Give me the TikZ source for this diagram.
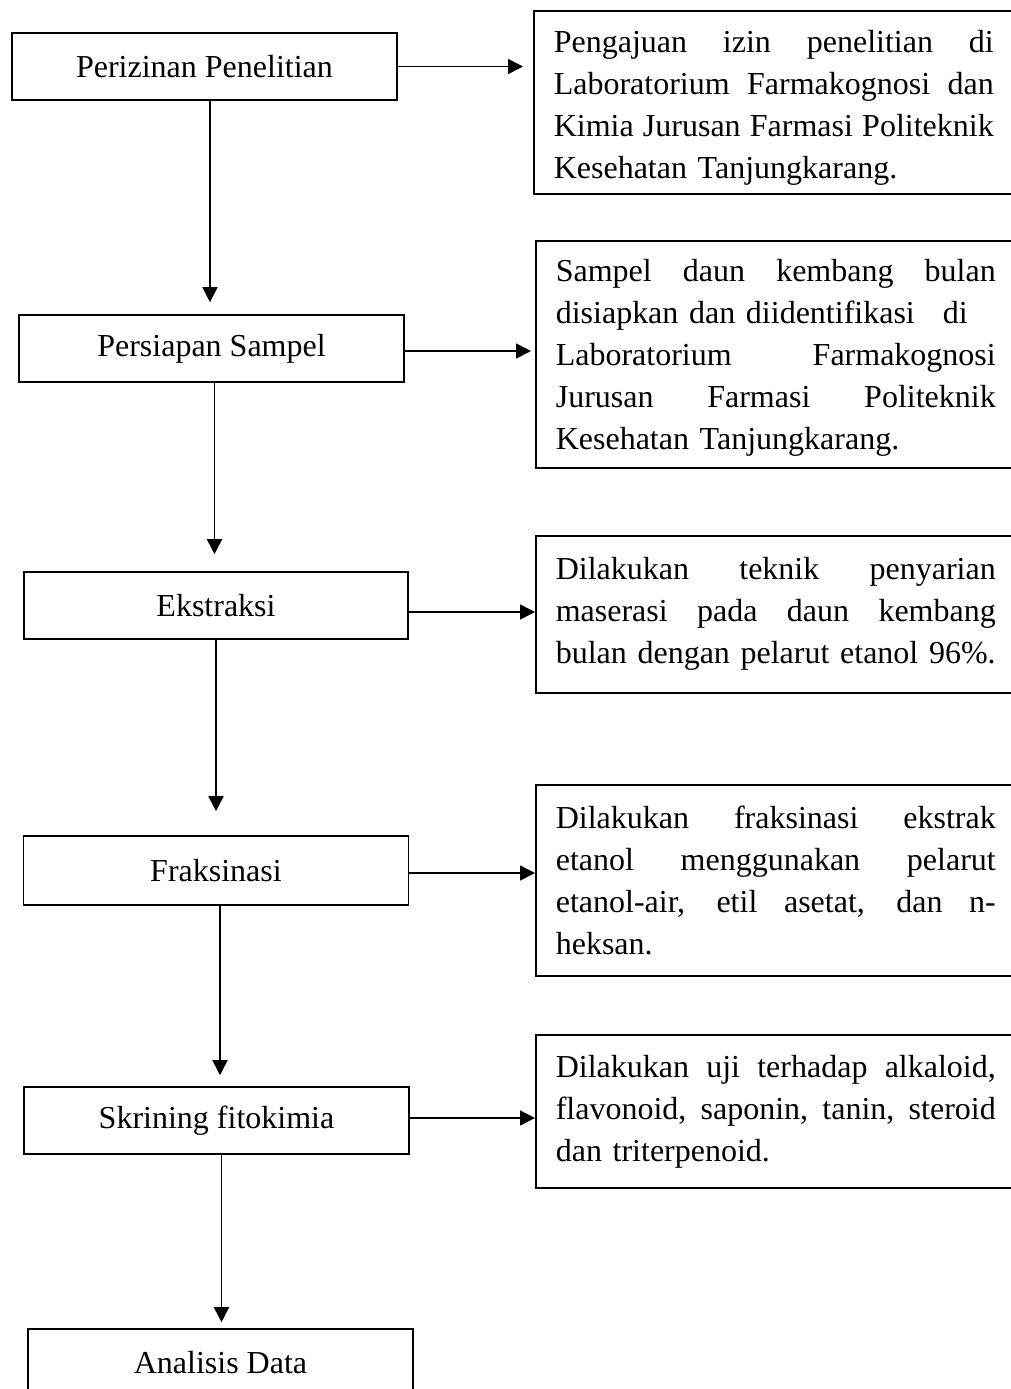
\documentclass[tikz,border=0pt]{standalone}
\usepackage{fontspec}
\setmainfont{Liberation Serif}
\usetikzlibrary{arrows.meta,calc}
\newcommand\jl[1]{\leavevmode\hbox to 220pt{\spaceskip=\fontdimen2\font plus 1fil\relax #1}}
\tikzset{
  stepbox/.style={draw, line width=0.8pt, minimum width=192.5pt, minimum height=33.5pt, inner sep=0pt,
    font=\fontsize{16}{21}\selectfont},
  notebox/.style={draw, line width=0.8pt, anchor=north west, text width=220pt, align=left,
    inner xsep=10pt, inner ysep=0pt, font=\fontsize{16}{21}\selectfont},
  arr/.style={line width=0.8pt, -{Triangle[length=7.5pt,width=7.5pt]}}
}
\begin{document}
\begin{tikzpicture}[x=0.5pt,y=-0.5pt]
\useasboundingbox (0,0) rectangle (1011,1389);
\clip (0,0) rectangle (1011,1389);
% left column
\node[stepbox] (b1) at (204.5,66.5) {Perizinan Penelitian};
\node[stepbox] (b2) at (211.5,348.5) {Persiapan Sampel};
\node[stepbox, minimum width=192pt] (b3) at (216,605.5) {Ekstraksi};
\node[stepbox, minimum height=34.5pt] (b4) at (216,870.5) {Fraksinasi};
\node[stepbox] (b5) at (216.5,1120.5) {Skrining fitokimia};
\node[stepbox] (b6) at (220.5,1362.5) {Analisis Data};
% right column
\node[notebox, minimum height=91.5pt] (r1) at (533,10) {%
\jl{\rule{0pt}{17pt}Pengajuan izin penelitian di}\\
\jl{Laboratorium Farmakognosi dan}\\
\jl{Kimia Jurusan Farmasi Politeknik}\\
Kesehatan Tanjungkarang.};
\node[notebox, minimum height=113.5pt] (r2) at (535,240) {%
\jl{\rule{0pt}{14.5pt}Sampel daun kembang bulan}\\
disiapkan dan diidentifikasi\hspace{14pt}di\\
\jl{Laboratorium Farmakognosi}\\
\jl{Jurusan Farmasi Politeknik}\\
Kesehatan Tanjungkarang.};
\node[notebox, minimum height=78.5pt] (r3) at (535,535) {%
\jl{Dilakukan teknik penyarian}\\
\jl{maserasi pada daun kembang}\\
bulan dengan pelarut etanol 96\%.};
\node[notebox, minimum height=95.5pt] (r4) at (535,784) {%
\jl{Dilakukan fraksinasi ekstrak}\\
\jl{etanol menggunakan pelarut}\\
\jl{etanol-air, etil asetat, dan n-}\\
heksan.};
\node[notebox, minimum height=76.5pt] (r5) at (535,1034) {%
\jl{Dilakukan uji terhadap alkaloid,}\\
\jl{flavonoid, saponin, tanin, steroid}\\
dan triterpenoid.};
% vertical connectors
\draw[arr, shorten >=6pt] ([xshift=2.75pt]b1.south) -- ([xshift=2.75pt]b1.south |- b2.north);
\draw[arr, shorten >=8.5pt] ([xshift=1.5pt]b2.south) -- ([xshift=1.5pt]b2.south |- b3.north);
\draw[arr, shorten >=12pt] (b3.south) -- (b3.south |- b4.north);
\draw[arr, shorten >=5.5pt] ([xshift=2pt]b4.south) -- ([xshift=2pt]b4.south |- b5.north);
\draw[arr, shorten >=3pt] ([xshift=2.5pt]b5.south) -- ([xshift=2.5pt]b5.south |- b6.north);
% horizontal connectors
\draw[arr, shorten >=5pt] (b1.east) -- (b1.east -| r1.west);
\draw[arr, shorten >=2pt] ([yshift=-1.25pt]b2.east) -- ([yshift=-1.25pt]b2.east -| r2.west);
\draw[arr] ([yshift=-3.25pt]b3.east) -- ([yshift=-3.25pt]b3.east -| r3.west);
\draw[arr] ([yshift=-1.25pt]b4.east) -- ([yshift=-1.25pt]b4.east -| r4.west);
\draw[arr] ([yshift=1.25pt]b5.east) -- ([yshift=1.25pt]b5.east -| r5.west);
\end{tikzpicture}
\end{document}
